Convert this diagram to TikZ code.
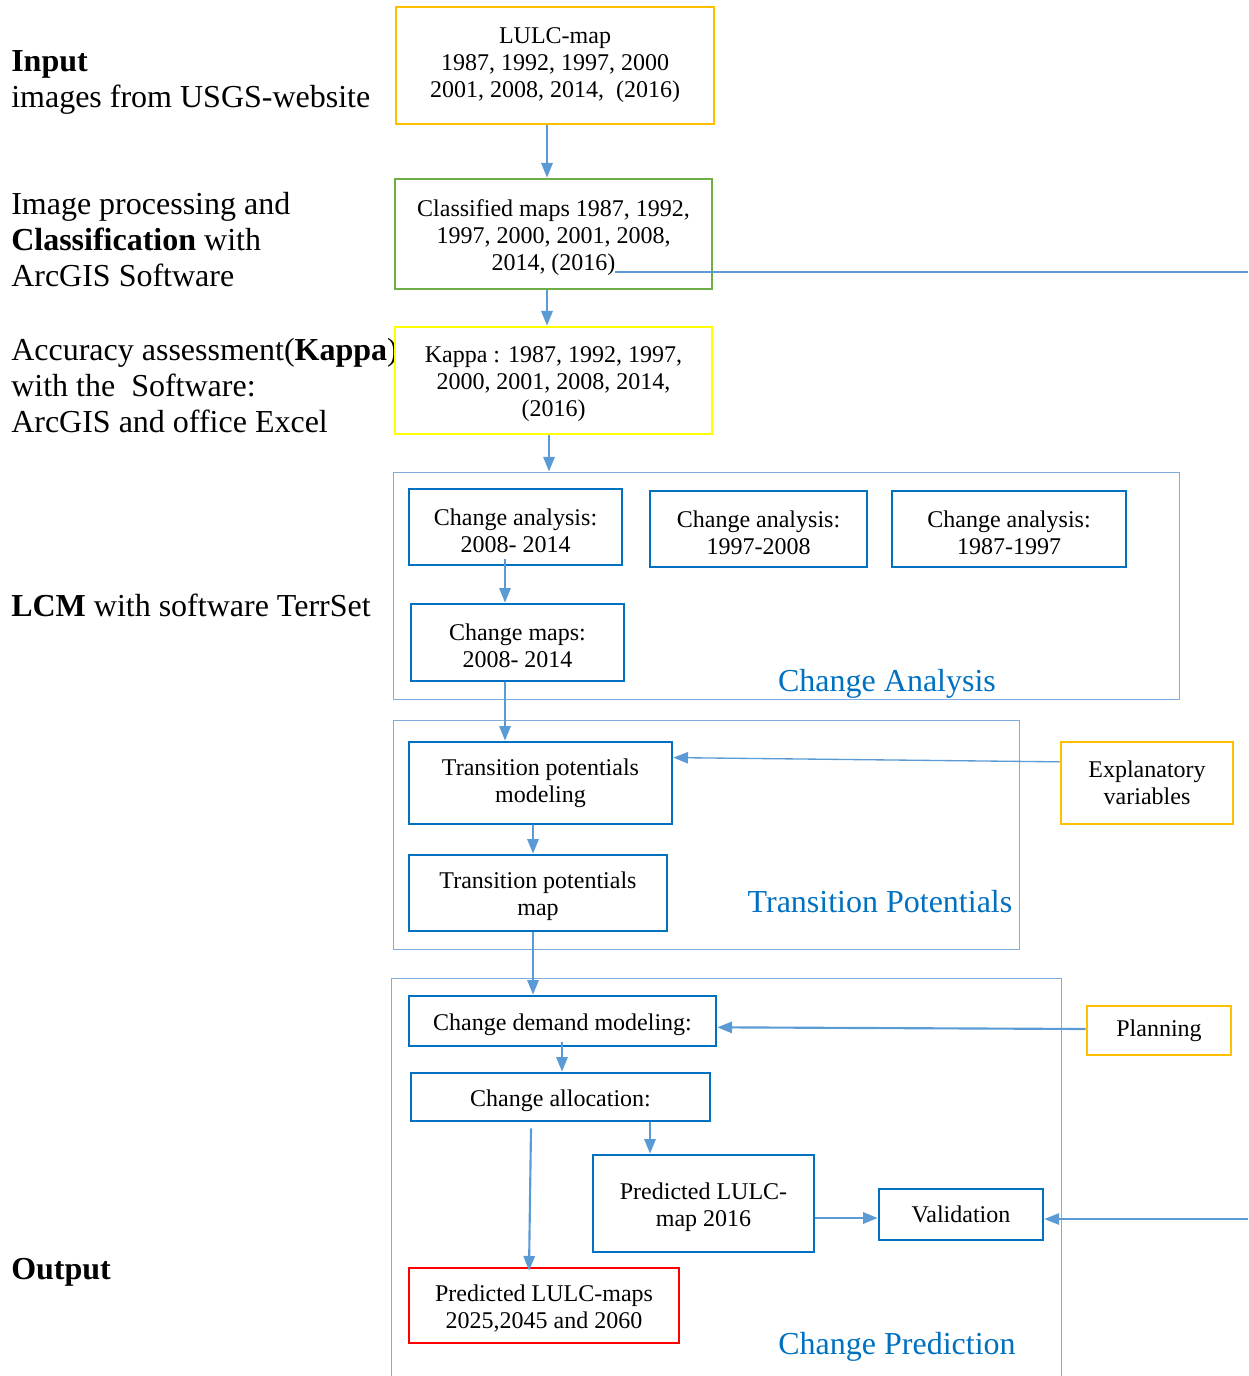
\documentclass[tikz,border=0pt]{standalone}
\usepackage{fontspec}
\setmainfont{Liberation Serif}
\usetikzlibrary{arrows.meta,calc}
\definecolor{cOrange}{HTML}{FFC000}
\definecolor{cGreen}{HTML}{70AD47}
\definecolor{cYellow}{HTML}{FFFF00}
\definecolor{cBlue}{HTML}{0070C0}
\definecolor{cLine}{HTML}{5B9BD5}
\definecolor{cCont}{HTML}{7FAEDE}
\definecolor{cRed}{HTML}{FF0000}
\newcommand{\fsup}{\rule{0pt}{17.5pt}}
\begin{document}
\begin{tikzpicture}[x=0.75pt,y=-0.75pt,
  sz/.style 2 args={minimum width=#1*0.75pt, minimum height=#2*0.75pt},
  box/.style={draw, fill=white, line width=2pt, inner sep=0pt, align=center,
    font=\fontsize{18}{20.25}\selectfont},
  bbox/.style={box, draw=cBlue},
  lt/.style={inner sep=0pt, align=left, anchor=west, font=\fontsize{24}{27}\selectfont},
  cont/.style={draw=cCont, line width=0.75pt, inner sep=0pt},
  clabel/.style={inner sep=0pt, text=cBlue, font=\fontsize{24}{27}\selectfont},
  arr/.style={draw=cLine, line width=1.6pt, -{Triangle[length=11pt,width=8.5pt]}},
  arrthin/.style={draw=cLine, line width=1pt, -{Triangle[length=11pt,width=8.5pt]}},
  thinline/.style={draw=cLine, line width=1pt}
]
\useasboundingbox (0,0) rectangle (1248,1376);

% left texts
\node[lt] (tin) at (11,82) {\textbf{Input}\\images from USGS-website};
\node[lt] (tproc) at (11,239.5) {Image processing and\\\textbf{Classification} with\\ArcGIS Software};
\node[lt] (tacc) at (11,386) {Accuracy assessment(\textbf{Kappa})\\with the~ Software:\\ArcGIS and office Excel};
\node[lt] (tlcm) at (11,605.5) {\textbf{LCM} with software TerrSet};
\node[lt] (tout) at (11,1272) {\textbf{Output}};

% containers
\node[cont, sz={786}{227}] (cA) at (786,585.5) {};
\node[cont, sz={626}{229}] (cT) at (706,834.5) {};
\draw[cont] (391,1376) -- (391,978) -- (1061,978) -- (1061,1376);
\node[clabel] (lA) at (887,684) {Change Analysis};
\node[clabel] (lT) at (880,902) {Transition Potentials};
\node[clabel] (lP) at (897,1347) {Change Prediction};

% boxes
\node[box, draw=cOrange, sz={318}{117}] (lulc) at (555,65.5) {LULC-map\\1987, 1992, 1997, 2000\\2001, 2008, 2014,~ (2016)};
\node[box, draw=cGreen, sz={317}{110}] (cls) at (553.5,234) {\fsup Classified maps 1987, 1992,\\1997, 2000, 2001, 2008,\\2014, (2016)};
\node[box, draw=cYellow, sz={317}{107}] (kap) at (553.5,380.5) {\fsup Kappa : 1987, 1992, 1997,\\2000, 2001, 2008, 2014,\\(2016)};
\node[bbox, sz={213}{76}] (ca1) at (515.5,527) {\fsup Change analysis:\\2008- 2014};
\node[bbox, sz={217}{76}] (ca2) at (758.5,529) {\fsup Change analysis:\\1997-2008};
\node[bbox, sz={234}{76}] (ca3) at (1009,529) {\fsup Change analysis:\\1987-1997};
\node[bbox, sz={213}{77}] (cmap) at (517.5,642.5) {\fsup Change maps:\\2008- 2014};
\node[bbox, sz={263}{82}] (tpm) at (540.5,783) {Transition potentials\\modeling};
\node[bbox, sz={258}{76}] (tpmap) at (538,893) {\fsup Transition potentials\\map};
\node[box, draw=cOrange, sz={172}{82}] (expl) at (1147,783) {Explanatory\\variables};
\node[bbox, sz={307}{50}] (cdm) at (562.5,1021) {\fsup Change demand modeling:};
\node[box, draw=cOrange, sz={144}{49}] (plan) at (1159,1030.5) {Planning};
\node[bbox, sz={299}{48}] (cal) at (560.5,1097) {\fsup Change allocation:};
\node[bbox, sz={221}{97}] (pred) at (703.5,1203.5) {\fsup Predicted LULC-\\map 2016};
\node[bbox, sz={164}{51}] (val) at (961,1214.5) {Validation};
\node[box, draw=cRed, sz={270}{75}] (out) at (544,1305.5) {\fsup Predicted LULC-maps\\2025,2045 and 2060};

% connectors
\draw[arr] ($(lulc.south)+(-8,0)$) -- ($(cls.north)+(-6.5,0)$);
\draw[arr] ($(cls.south)+(-6.5,0)$) -- ($(kap.north)+(-6.5,0)$);
\coordinate (k1) at ($(kap.south)+(-4.5,0)$);
\draw[arr] (k1) -- (k1 |- cA.north);
\draw[arr] ($(ca1.south)+(-10.5,-7)$) -- ($(cmap.north)+(-12.5,0)$);
\draw[arr] ($(cmap.south)+(-12.5,0)$) -- ($(tpm.north)+(-35.5,0)$);
\draw[arr] ($(tpm.south)+(-7.5,0)$) -- ($(tpmap.north)+(-5,0)$);
\draw[arr] ($(tpmap.south)+(-5,0)$) -- ($(cdm.north)+(-29.5,0)$);
\draw[arr] ($(cdm.south)+(-0.5,-5)$) -- ($(cal.north)+(1.5,0)$);
\draw[arr] ($(cal.south)+(89.5,0)$) -- ($(pred.north)+(-53.5,0)$);
\draw[arr] ($(cal.south)+(-29.5,6)$) -- ($(out.north)+(-15,4)$);
\coordinate (p1) at ($(pred.east)+(0,14.5)$);
\draw[arr] (p1) -- (p1 -| val.west);
\draw[arrthin] ($(expl.north west)!0.25!(expl.south west)$) -- ($(tpm.north east)!0.2!(tpm.south east)$);
\draw[arr] ($(plan.west)+(0,-1.5)$) -- ($(cdm.north east)!0.62!(cdm.south east)$);
\coordinate (vin) at (1248,1219);
\draw[arrthin] (vin) -- (vin -| val.east);
\coordinate (c1) at (615,272);
\coordinate (c2) at (1248,272);
\draw[thinline] (c1) -- (c2);
\end{tikzpicture}
\end{document}
